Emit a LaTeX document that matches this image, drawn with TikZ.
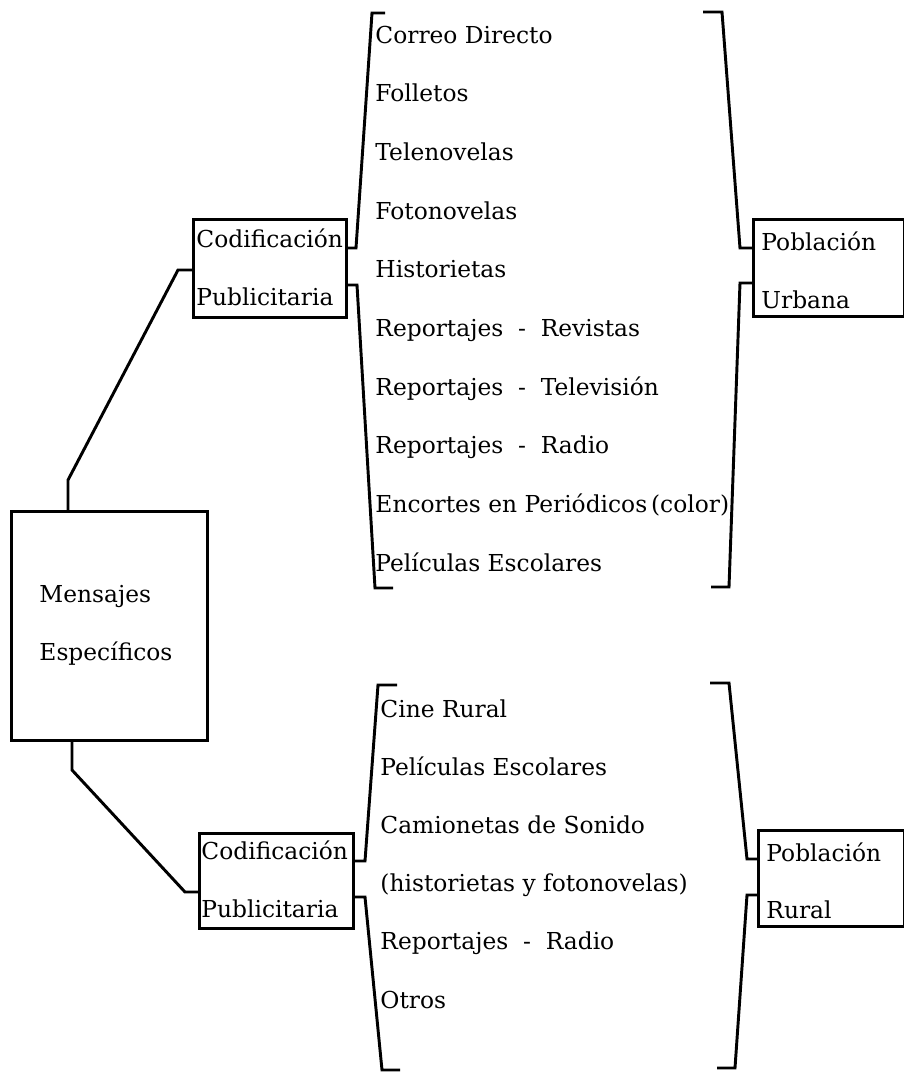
\documentclass[tikz,border=0pt]{standalone}
\usepackage{fontspec}
\setmainfont{DejaVu Serif}

\tikzset{
box/.style={draw, inner sep=0pt, anchor=north west},
lbl/.style={anchor=base west, inner sep=0pt, font=\fontsize{17.5}{21}\selectfont}}
\tikzset{every picture/.style={line width=2.2pt}}

\begin{document}
\begin{tikzpicture}[x=0.75pt,y=0.75pt,yscale=-1,xscale=1]

\useasboundingbox (0,0) rectangle (904,1072);

% BOXES

\node [box, minimum width=196*0.75pt, minimum height=229*0.75pt] (mensajes) at (10,510) {};
\node [box, minimum width=153*0.75pt, minimum height=98*0.75pt] (codA) at (192,218) {};
\node [box, minimum width=154*0.75pt, minimum height=95*0.75pt] (codB) at (198,832) {};
\node [box, minimum width=151*0.75pt, minimum height=97*0.75pt] (urbana) at (752,218) {};
\node [box, minimum width=146*0.75pt, minimum height=96*0.75pt] (rural) at (757,829) {};

% BOX TEXTS

\node [lbl] (mensajes1) at (38,602) {Mensajes};
\node [lbl] (mensajes2) at (38,660) {Específicos};
\node [lbl] (codA1) at (195,247) {Codificación};
\node [lbl] (codA2) at (195,305) {Publicitaria};
\node [lbl] (codB1) at (200,859) {Codificación};
\node [lbl] (codB2) at (200,917) {Publicitaria};
\node [lbl] (urbana1) at (760,250) {Población};
\node [lbl] (urbana2) at (760,308) {Urbana};
\node [lbl] (rural1) at (765,861) {Población};
\node [lbl] (rural2) at (765,918) {Rural};

% MEDIA LISTS

\def\urbanitems{
    Correo Directo,
    Folletos,
    Telenovelas,
    Fotonovelas,
    Historietas,
    Reportajes\ \ -\ \ Revistas,
    Reportajes\ \ -\ \ Televisión,
    Reportajes\ \ -\ \ Radio,
    Encortes en Periódicos\,(color),
    Películas Escolares
}

\def\ruralitems{
    Cine Rural,
    Películas Escolares,
    Camionetas de Sonido,
    (historietas y fotonovelas),
    Reportajes\ \ -\ \ Radio,
    Otros
}

\foreach \t [count=\i] in \urbanitems{
    \node [lbl] (u\i) at (374,{43+58.7*(\i-1)}) {\t};
}

\foreach \t [count=\i] in \ruralitems{
    \node [lbl] (r\i) at (379,{717+58.2*(\i-1)}) {\t};
}

% CONNECTOR COORDINATES

\coordinate (ma1) at (68,480);
\coordinate (ma2) at (178,270);
\coordinate (mb1) at (72,770);
\coordinate (mb2) at (185,892);

\coordinate (ua1) at (356,248);
\coordinate (ua2) at (372,13);
\coordinate (ua3) at (385,13);
\coordinate (ub1) at (357,285);
\coordinate (ub2) at (375,588);
\coordinate (ub3) at (393,588);

\coordinate (ra1) at (740,248);
\coordinate (ra2) at (722,12);
\coordinate (ra3) at (703,12);
\coordinate (rb1) at (740,283);
\coordinate (rb2) at (729,587);
\coordinate (rb3) at (711,587);

\coordinate (va1) at (365,861);
\coordinate (va2) at (378,685);
\coordinate (va3) at (397,685);
\coordinate (vb1) at (365,897);
\coordinate (vb2) at (382,1070);
\coordinate (vb3) at (400,1070);

\coordinate (wa1) at (747,859);
\coordinate (wa2) at (729,683);
\coordinate (wa3) at (710,683);
\coordinate (wb1) at (747,895);
\coordinate (wb2) at (735,1068);
\coordinate (wb3) at (717,1068);

% CONNECTORS

\draw (mensajes.north -| ma1) -- (ma1) -- (ma2) -- (codA.west |- ma2);
\draw (mensajes.south -| mb1) -- (mb1) -- (mb2) -- (codB.west |- mb2);

\draw (codA.east |- ua1) -- (ua1) -- (ua2) -- (ua3);
\draw (codA.east |- ub1) -- (ub1) -- (ub2) -- (ub3);
\draw (ra3) -- (ra2) -- (ra1) -- (urbana.west |- ra1);
\draw (rb3) -- (rb2) -- (rb1) -- (urbana.west |- rb1);

\draw (codB.east |- va1) -- (va1) -- (va2) -- (va3);
\draw (codB.east |- vb1) -- (vb1) -- (vb2) -- (vb3);
\draw (wa3) -- (wa2) -- (wa1) -- (rural.west |- wa1);
\draw (wb3) -- (wb2) -- (wb1) -- (rural.west |- wb1);

\end{tikzpicture}
\end{document}
